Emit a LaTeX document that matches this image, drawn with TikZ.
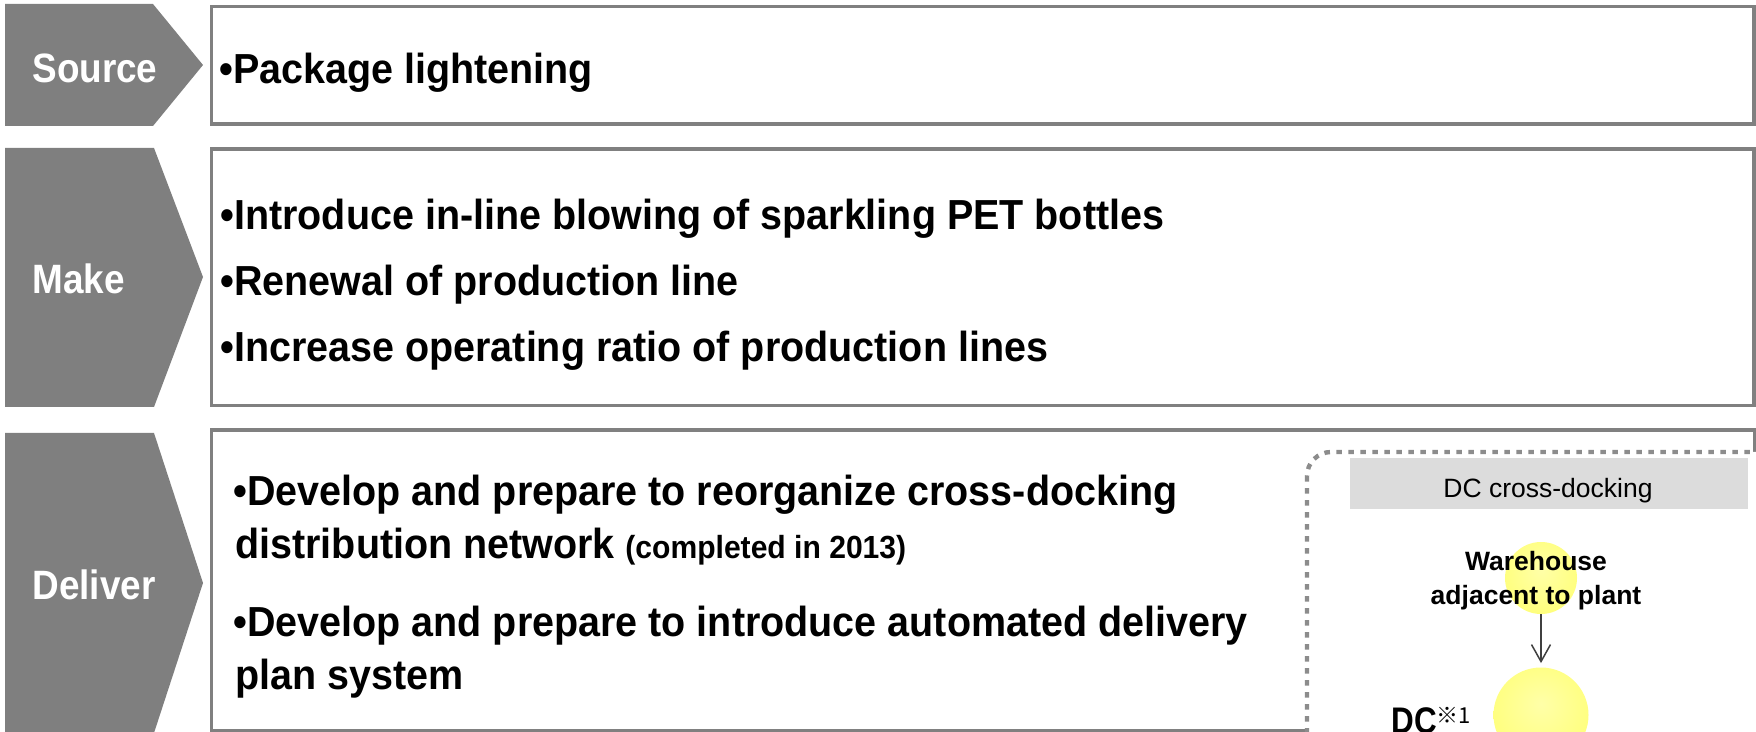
\documentclass[tikz,border=0pt]{standalone}
\usepackage{fontspec}
\setmainfont{Liberation Sans}
\newfontfamily\itemsans[FakeStretch=0.94]{Liberation Sans}
\newfontfamily\labelsans[FakeStretch=0.9]{Liberation Sans}
\newfontfamily\narrowsans[FakeStretch=0.85]{Liberation Sans}
\newfontfamily\cjk{Noto Sans CJK JP}
\usetikzlibrary{arrows.meta}

\definecolor{phasegray}{HTML}{7F7F7F}
\definecolor{framegray}{HTML}{808080}
\definecolor{headgray}{HTML}{DCDCDC}
\definecolor{dotgray}{HTML}{8C8C8C}
\definecolor{arrowgray}{HTML}{404040}
\definecolor{bubblehi}{HTML}{FFFFA8}
\definecolor{bubblemid}{HTML}{FFFF7C}
\definecolor{bubbleedge}{HTML}{D4CC50}
\pgfdeclareradialshading{bubble}{\pgfpoint{0bp}{6bp}}{color(0bp)=(bubblehi); color(28bp)=(bubblemid); color(46bp)=(bubblemid); color(56bp)=(bubbleedge)}

\newcommand\labelsize{\labelsans\fontsize{20.5}{20.5}\selectfont\bfseries}
\newcommand\itemsize{\itemsans\fontsize{21}{21}\selectfont\bfseries}
\newcommand\notesize{\itemsans\fontsize{16}{16}\selectfont\bfseries}
\newcommand\headsize{\fontsize{13.25}{13.25}\selectfont}
\newcommand\bubblesize{\fontsize{13.25}{13.25}\selectfont\bfseries}
\newcommand\dcsize{\narrowsans\fontsize{18.5}{18.5}\selectfont\bfseries}
\newcommand\marksize{\cjk\fontsize{11}{11}\selectfont}

\begin{document}
\begin{tikzpicture}[x=0.5pt,y=-0.5pt,
  phase/.style={fill=phasegray},
  phaselabel/.style={text=white,font=\labelsize,anchor=base west,inner sep=0pt},
  panel/.style={draw=framegray,line width=1.75pt,fill=white},
  item/.style={font=\itemsize,anchor=base west,inner sep=0pt},
  dotframe/.style={draw=dotgray,fill=white,line width=2.2pt,dash pattern=on 2.8pt off 3.2pt,rounded corners=12pt},
  headtext/.style={font=\headsize,anchor=base,inner sep=0pt},
  bubblenode/.style={circle,inner sep=0pt,shade,shading=bubble},
  bubbletext/.style={font=\bubblesize,anchor=base,inner sep=0pt},
  flow/.style={draw=arrowgray,line width=0.75pt,-{Straight Barb[length=8.5pt,width=9.5pt]},shorten >=2pt}
]
\useasboundingbox (0,0) rectangle (1756,732);
\clip (0,0) rectangle (1756,732);

% phase arrows on the left
\fill[phase] (5,4) -- (153,4) -- (203,65) -- (153,126) -- (5,126) -- cycle;
\fill[phase] (5,148) -- (154,148) -- (203,277) -- (154,407) -- (5,407) -- cycle;
\fill[phase] (5,433) -- (154,433) -- (203,583) -- (154,733) -- (5,733) -- cycle;

\node[phaselabel] (source) at (32,83) {Source};
\node[phaselabel] (make) at (32,294) {Make};
\node[phaselabel] (deliver) at (32,599) {Deliver};

% framed panels
\draw[panel] (211.5,6.3) rectangle (1754,124);
\draw[panel] (211.5,149) rectangle (1754,405.5);
\draw[panel] (211.5,430) rectangle (1754.5,730.5);

% panel items
\node[item] (src1) at (219,84) {•Package lightening};

\node[item] (mk1) at (220,230) {•Introduce in-line blowing of sparkling PET bottles};
\node[item] (mk2) at (220,296) {•Renewal of production line};
\node[item] (mk3) at (220,362) {•Increase operating ratio of production lines};

\node[item] (dl1) at (233,505) {•Develop and prepare to reorganize cross-docking};
\node[item] (dl1b) at (235,558) {distribution network};
\node[item,font=\notesize] (dl1c) at (625,558) {(completed in 2013)};
\node[item] (dl2) at (233,636) {•Develop and prepare to introduce automated delivery};
\node[item] (dl2b) at (235,689) {plan system};

% cross-docking inset
\draw[dotframe] (1307,452) rectangle (1900,900);
\fill[headgray] (1350,458) rectangle (1748,509);
\node[headtext] (head) at (1548,497) {DC cross-docking};

\node[bubblenode,minimum size=36pt] (wh) at (1541,578) {};
\node[bubblenode,minimum size=47.5pt] (dc) at (1541,715) {};
\node[bubbletext] (whl1) at (1536,570) {Warehouse};
\node[bubbletext] (whl2) at (1536,604) {adjacent to plant};
\draw[flow] (wh) -- (dc);

\node[font=\dcsize,anchor=base west,inner sep=0pt] (dclabel) at (1391,733) {DC};
\node[font=\marksize,anchor=base west,inner sep=0pt] (dcmark) at (1436,723) {※1};
\end{tikzpicture}
\end{document}
